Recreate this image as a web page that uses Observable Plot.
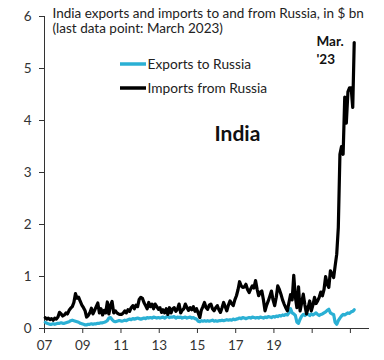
<!DOCTYPE html>
<html><head><meta charset="utf-8">
<script src="https://cdn.jsdelivr.net/npm/d3@7"></script>
<script src="https://cdn.jsdelivr.net/npm/@observablehq/plot@0.6"></script>
<style>body{margin:0;background:#fff}#chart{width:384px;height:360px}</style>
</head><body><div id="chart"></div>
<script>
const startYear = 2007;
// Monthly values, $ bn, Jan 2007 – Mar 2023
const imports = [
  0.21,0.18,0.20,0.17,0.19,0.16,0.20,0.18,0.22,0.31,0.28,0.24,
  0.26,0.30,0.28,0.35,0.39,0.42,0.50,0.67,0.58,0.60,0.52,0.45,
  0.40,0.34,0.22,0.25,0.30,0.39,0.28,0.35,0.42,0.49,0.30,0.38,
  0.26,0.35,0.30,0.51,0.28,0.45,0.52,0.30,0.34,0.30,0.28,0.27,
  0.27,0.30,0.34,0.30,0.36,0.33,0.40,0.44,0.38,0.45,0.42,0.56,
  0.60,0.58,0.50,0.44,0.38,0.50,0.42,0.47,0.38,0.47,0.42,0.37,
  0.40,0.31,0.36,0.30,0.38,0.27,0.40,0.30,0.38,0.40,0.33,0.37,
  0.47,0.30,0.35,0.38,0.47,0.40,0.35,0.40,0.36,0.42,0.33,0.38,
  0.30,0.21,0.35,0.42,0.50,0.40,0.37,0.45,0.47,0.38,0.34,0.40,
  0.44,0.36,0.31,0.40,0.50,0.42,0.34,0.45,0.53,0.48,0.44,0.55,
  0.63,0.75,0.90,0.82,0.79,0.80,0.85,0.75,0.69,0.76,0.82,0.78,
  0.92,0.75,0.63,0.70,0.72,0.55,0.34,0.45,0.53,0.62,0.72,0.55,
  0.44,0.60,0.82,0.75,0.66,0.55,0.47,0.40,0.34,0.50,0.65,0.55,
  1.02,0.60,0.40,0.80,0.34,0.50,0.66,0.45,0.28,0.40,0.53,0.34,
  0.45,0.60,0.48,0.53,0.60,0.70,0.63,0.75,1.00,0.85,0.79,1.11,
  1.05,0.98,1.20,1.43,1.94,3.35,3.50,3.35,4.45,3.95,4.55,4.63,
  4.63,4.25,5.50
];
const exports = [
  0.12,0.10,0.09,0.08,0.08,0.09,0.08,0.09,0.10,0.10,0.11,0.10,
  0.10,0.11,0.12,0.13,0.15,0.16,0.15,0.14,0.13,0.12,0.10,0.09,
  0.08,0.07,0.07,0.08,0.08,0.09,0.08,0.09,0.09,0.10,0.10,0.11,
  0.11,0.12,0.13,0.15,0.20,0.21,0.17,0.14,0.13,0.14,0.15,0.15,
  0.14,0.15,0.16,0.15,0.17,0.18,0.17,0.19,0.18,0.19,0.20,0.19,
  0.18,0.19,0.20,0.19,0.21,0.20,0.21,0.20,0.22,0.21,0.20,0.21,
  0.20,0.21,0.22,0.20,0.22,0.23,0.21,0.22,0.22,0.23,0.20,0.22,
  0.21,0.22,0.20,0.21,0.22,0.20,0.21,0.22,0.20,0.21,0.19,0.18,
  0.14,0.13,0.15,0.14,0.15,0.14,0.15,0.14,0.15,0.16,0.14,0.15,
  0.14,0.15,0.15,0.16,0.15,0.16,0.17,0.16,0.17,0.16,0.18,0.17,
  0.18,0.19,0.20,0.19,0.21,0.20,0.19,0.20,0.21,0.20,0.22,0.21,
  0.20,0.21,0.20,0.22,0.21,0.20,0.22,0.21,0.23,0.22,0.21,0.23,
  0.22,0.24,0.23,0.25,0.24,0.26,0.25,0.27,0.26,0.30,0.38,0.30,
  0.28,0.25,0.12,0.10,0.18,0.24,0.27,0.25,0.28,0.27,0.25,0.28,
  0.26,0.28,0.30,0.27,0.25,0.27,0.28,0.30,0.32,0.35,0.37,0.30,
  0.28,0.27,0.12,0.08,0.15,0.20,0.24,0.27,0.26,0.28,0.30,0.29,
  0.32,0.33,0.36
];
const yTicks = [0,1,2,3,4,5,6];
const xTickYears = [2007,2009,2011,2013,2015,2017,2019,2021,2023];
const xTickLabels = ["07","09","11","13","15","17","19","",""];
const seriesNames = ["Exports to Russia","Imports from Russia"];
const seriesColors = ["#2bb0d4","#000000"];
const titleLines = ["India exports and imports to and from Russia, in $ bn", "(last data point: March 2023)"];
const countryLabel = "India";
const endLabel = "Mar.\n'23";

const toRows = arr => arr.map((v,i) => ({date: new Date(Date.UTC(startYear, i, 15)), value: v}));
const impRows = toRows(imports), expRows = toRows(exports);
const labelByYear = new Map(xTickYears.map((y,i)=>[y, xTickLabels[i]]));
const x0 = new Date(Date.UTC(2007,0,1)), x1 = new Date(Date.UTC(2024,0,1));

const chart = Plot.plot({
  width: 384, height: 360,
  marginLeft: 44, marginRight: 15, marginTop: 16, marginBottom: 32,
  style: {fontFamily: "Lato, sans-serif", fontSize: "13px", background: "#fff", color: "#333"},
  x: {type: "utc", domain: [x0, x1], axis: null},
  y: {domain: [0, 6], axis: null},
  marks: [
    Plot.axisY({ticks: yTicks, tickFormat: "d", label: null, tickSize: 5, tickPadding: 8, fontSize: 13.5, stroke: "#333", fill: "#333"}),
    Plot.axisX({ticks: xTickYears.map(y => new Date(Date.UTC(y,0,1))), tickFormat: d => labelByYear.get(d.getUTCFullYear()), label: null, tickSize: 5, tickPadding: 7, fontSize: 13.5, stroke: "#333", fill: "#333"}),
    Plot.ruleX([x0], {stroke: "#333"}),
    Plot.ruleY([0], {stroke: "#333"}),
    Plot.line(expRows, {x: "date", y: "value", stroke: seriesColors[0], strokeWidth: 3.2}),
    Plot.line(impRows, {x: "date", y: "value", stroke: seriesColors[1], strokeWidth: 3.2}),
    Plot.text([titleLines[0]], {frameAnchor: "top-left", dx: 8, dy: -3, text: d => d, textAnchor: "start", lineAnchor: "middle", fontSize: 13.5, fill: "#222"}),
    Plot.text([titleLines[1]], {frameAnchor: "top-left", dx: 8, dy: 12.5, text: d => d, textAnchor: "start", lineAnchor: "middle", fontSize: 13.5, fill: "#222"}),
    Plot.text([endLabel], {frameAnchor: "top-left", dx: 272, dy: 16, text: d => d, textAnchor: "start", lineAnchor: "top", lineHeight: 1.38, fontSize: 13.5, fontWeight: "bold", fill: "#111"}),
    Plot.text([seriesNames[0]], {frameAnchor: "top-left", dx: 103, dy: 48, text: d => d, textAnchor: "start", lineAnchor: "middle", fontSize: 13.7, fill: "#222"}),
    Plot.text([seriesNames[1]], {frameAnchor: "top-left", dx: 103, dy: 72, text: d => d, textAnchor: "start", lineAnchor: "middle", fontSize: 13.7, fill: "#222"}),
    Plot.text([countryLabel], {frameAnchor: "top-left", dx: 170, dy: 110, text: d => d, textAnchor: "start", lineAnchor: "top", fontSize: 21, fontWeight: "bold", fill: "#111"})
  ]
});
document.getElementById("chart").appendChild(chart);

// legend swatches
const svg = d3.select(chart);
const legendYs = [64, 88];
seriesNames.forEach((n,i) => {
  svg.append("line").attr("x1", 120).attr("x2", 146).attr("y1", legendYs[i]).attr("y2", legendYs[i])
    .attr("stroke", seriesColors[i]).attr("stroke-width", 3.5);
});
</script></body></html>
